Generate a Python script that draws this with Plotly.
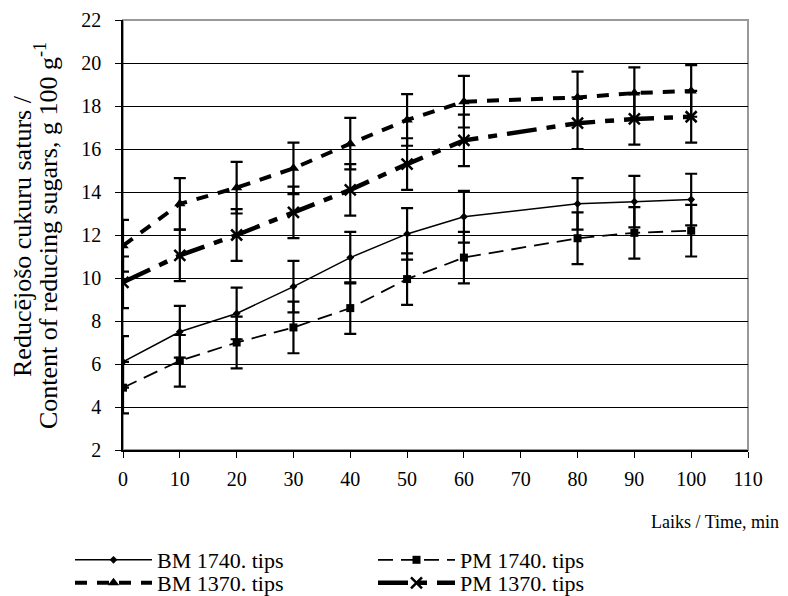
import plotly.graph_objects as go

time_min = [0, 10, 20, 30, 40, 50, 60, 80, 90, 100]
bm1740 = [6.1, 7.5, 8.35, 9.6, 10.95, 12.05, 12.85, 13.45, 13.55, 13.65]
pm1740 = [4.9, 6.15, 7.0, 7.7, 8.6, 9.95, 10.95, 11.85, 12.1, 12.2]
bm1370 = [11.5, 13.45, 14.2, 15.1, 16.25, 17.35, 18.2, 18.4, 18.6, 18.7]
pm1370 = [9.8, 11.05, 12.0, 13.05, 14.1, 15.3, 16.4, 17.2, 17.4, 17.5]
err = [1.2] * 10

names = ["BM 1740. tips", "PM 1740. tips", "BM 1370. tips", "PM 1370. tips"]
y_ticks = list(range(2, 23, 2))
x_ticks = list(range(0, 111, 10))
y_title_lines = ["Reducējošo cukuru saturs /", "Content of reducing sugars, g 100 g<sup>-1</sup>"]
x_title = "Laiks / Time, min"

FONT = "Liberation Serif"
L, R, T, B = 123, 40, 20, 146
PW, PH = 788 - L - R, 596 - T - B

def px_x(v):
    return (v - L) / PW

def px_y(v):
    return (596 - B - v) / PH

def eb():
    return dict(type="data", array=err, visible=True, color="black", thickness=2.2, width=6)

fig = go.Figure()
fig.add_trace(go.Scatter(x=time_min, y=bm1740, name=names[0], mode="lines+markers",
                         line=dict(color="black", width=1.5),
                         marker=dict(symbol="diamond", size=6, color="black"),
                         error_y=eb(), legend="legend"))
fig.add_trace(go.Scatter(x=time_min, y=bm1370, name=names[2], mode="lines+markers",
                         line=dict(color="black", width=4, dash="12px,10px"),
                         marker=dict(symbol="triangle-up", size=10, color="black"),
                         error_y=eb(), legend="legend2"))
fig.add_trace(go.Scatter(x=time_min, y=pm1740, name=names[1], mode="lines+markers",
                         line=dict(color="black", width=1.8, dash="15px,8px"),
                         marker=dict(symbol="square", size=8, color="black"),
                         error_y=eb(), legend="legend3"))
fig.add_trace(go.Scatter(x=time_min, y=pm1370, name=names[3], mode="lines+markers",
                         line=dict(color="black", width=4.5, dash="30px,10px,9px,10px"),
                         marker=dict(symbol="x-thin-open", size=11, color="black",
                                     line=dict(color="black", width=2.5)),
                         error_y=eb(), legend="legend4"))

fig.add_shape(type="rect", xref="paper", yref="paper", x0=0, x1=1, y0=0, y1=1,
              line=dict(color="#999999", width=2), layer="below")

def leg(x, y):
    return dict(x=px_x(x), y=px_y(y), xanchor="left", yanchor="middle",
                bgcolor="rgba(0,0,0,0)", itemwidth=77, tracegroupgap=0,
                font=dict(family=FONT, size=22))

annotations = [dict(text=x_title, xref="paper", yref="paper",
                    x=px_x(781), y=px_y(522), xanchor="right", yanchor="middle",
                    showarrow=False, font=dict(family=FONT, size=18))]
for txt, cx in zip(y_title_lines, [22, 46]):
    annotations.append(dict(text=txt, xref="paper", yref="paper", textangle=-90,
                            x=px_x(cx), y=px_y(236), xanchor="center", yanchor="middle",
                            showarrow=False, font=dict(family=FONT, size=26)))

fig.update_layout(
    width=788, height=596,
    margin=dict(l=L, r=R, t=T, b=B, autoexpand=False),
    plot_bgcolor="white", paper_bgcolor="white",
    font=dict(family=FONT, size=20, color="black"),
    showlegend=True,
    xaxis=dict(range=[0, 110], tickvals=x_ticks, showgrid=False, zeroline=False,
               showline=True, linecolor="black", linewidth=1.5, automargin=False,
               ticks="outside", ticklen=6, tickcolor="black", ticklabelstandoff=4,
               tickfont=dict(size=20)),
    yaxis=dict(range=[2, 22], tickvals=y_ticks, showgrid=True, gridcolor="black", gridwidth=1,
               zeroline=False, showline=True, linecolor="black", linewidth=1.5, automargin=False,
               ticks="outside", ticklen=6, tickcolor="black", ticklabelstandoff=10,
               tickfont=dict(size=20)),
    legend=leg(70, 560),
    legend2=leg(70, 583),
    legend3=leg(373, 560),
    legend4=leg(373, 583),
    annotations=annotations,
)

fig.write_html("out.html", config={"displayModeBar": False},
               post_script="document.body.style.margin='0px';")
